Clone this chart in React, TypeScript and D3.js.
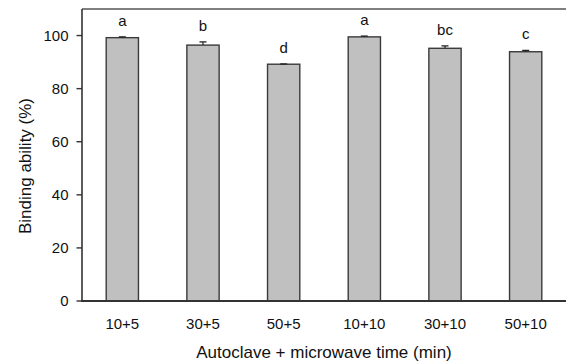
import React from "react";
import * as d3 from "d3";

const categories = ["10+5", "30+5", "50+5", "10+10", "30+10", "50+10"];
const means = [99.2, 96.4, 89.2, 99.5, 95.2, 93.9];
const errors = [0.3, 1.2, 0.1, 0.3, 0.9, 0.5];
const letters = ["a", "b", "d", "a", "bc", "c"];
const yTicks = [0, 20, 40, 60, 80, 100];

const W = 566;
const H = 363;
const left = 82;
const right = 566;
const top = 9;
const bottom = 301;
const FONT = "'Liberation Sans', Arial, sans-serif";

export default function App() {
  const x = d3
    .scaleBand<string>()
    .domain(categories)
    .range([left, right])
    .paddingInner(0.6)
    .paddingOuter(0.3);
  const y = d3.scaleLinear().domain([0, 110]).range([bottom, top]);
  const axisColor = "#333";

  return (
    <svg
      width={W}
      height={H}
      style={{ position: "absolute", left: 0, top: 0, background: "#fff" }}
      fontFamily={FONT}
    >
      {/* bars */}
      {categories.map((c, i) => {
        const bx = x(c)!;
        const bw = x.bandwidth();
        const cx = bx + bw / 2;
        const yt = y(means[i] + errors[i]);
        return (
          <g key={c}>
            <rect
              x={bx}
              y={y(means[i])}
              width={bw}
              height={y(0) - y(means[i])}
              fill="#c0c0c0"
              stroke="#3a3a3a"
              strokeWidth={1.4}
            />
            <line x1={cx} x2={cx} y1={y(means[i])} y2={yt} stroke="#222" strokeWidth={1.2} />
            <line x1={cx - 3.5} x2={cx + 3.5} y1={yt} y2={yt} stroke="#222" strokeWidth={1.3} />
            <text x={cx} y={yt - 11} textAnchor="middle" fontSize={15} fill="#111">
              {letters[i]}
            </text>
            <text x={cx} y={329} textAnchor="middle" fontSize={15} fill="#111">
              {c}
            </text>
          </g>
        );
      })}

      {/* frame */}
      <line x1={left} x2={right} y1={top} y2={top} stroke="#555" strokeWidth={1.4} />
      <line x1={left} x2={left} y1={top} y2={bottom} stroke={axisColor} strokeWidth={1.6} />
      <line x1={left - 1} x2={right} y1={bottom} y2={bottom} stroke={axisColor} strokeWidth={1.8} />

      {/* y ticks */}
      {yTicks.map((t) => (
        <g key={t}>
          <line x1={left - 5.5} x2={left} y1={y(t)} y2={y(t)} stroke={axisColor} strokeWidth={1.4} />
          <text x={68.5} y={y(t)} dy="0.35em" textAnchor="end" fontSize={15} fill="#111">
            {t}
          </text>
        </g>
      ))}

      {/* axis titles */}
      <text x={(left + right) / 2} y={358} textAnchor="middle" fontSize={17} fill="#111">
        Autoclave + microwave time (min)
      </text>
      <text
        transform={`translate(31, 166) rotate(-90)`}
        textAnchor="middle"
        fontSize={17}
        fill="#111"
      >
        Binding ability (%)
      </text>
    </svg>
  );
}
